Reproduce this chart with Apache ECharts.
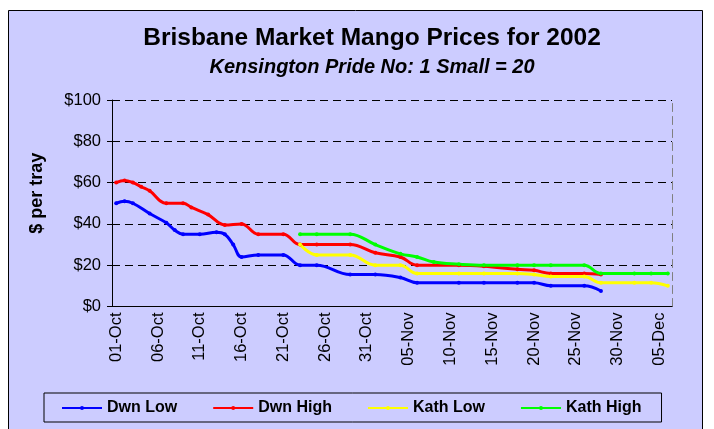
<!DOCTYPE html>
<html>
<head>
<meta charset="utf-8">
<script src="https://cdn.jsdelivr.net/npm/echarts@6/dist/echarts.min.js"></script>
<style>
  html, body { margin: 0; padding: 0; background: #fff; }
  #chart { width: 714px; height: 429px; }
</style>
</head>
<body>
<div id="chart"></div>
<script>
// daily categories 01-Oct .. 06-Dec 2002
const months = ['Oct', 'Nov', 'Dec'];
const monthDays = [31, 30, 6];
const categories = [];
monthDays.forEach((n, m) => {
  for (let d = 1; d <= n; d++) categories.push(String(d).padStart(2, '0') + '-' + months[m]);
});

const yTicks = [0, 20, 40, 60, 80, 100];

// prices ($ per tray)
const dwnLowDates = ['01-Oct', '02-Oct', '03-Oct', '05-Oct', '07-Oct', '08-Oct', '09-Oct', '11-Oct', '13-Oct', '14-Oct', '15-Oct', '16-Oct', '18-Oct', '21-Oct', '23-Oct', '25-Oct', '29-Oct', '01-Nov', '04-Nov', '06-Nov', '11-Nov', '14-Nov', '18-Nov', '20-Nov', '22-Nov', '26-Nov', '28-Nov'];
const dwnLowValues = [50, 51, 50, 45, 40.5, 37, 35, 35, 36, 35, 30, 24, 25, 25, 20, 20, 15.5, 15.5, 14, 11.5, 11.5, 11.5, 11.5, 11.5, 10, 10, 7.5];

const dwnHighDates = ['01-Oct', '02-Oct', '03-Oct', '04-Oct', '05-Oct', '07-Oct', '09-Oct', '10-Oct', '12-Oct', '14-Oct', '16-Oct', '18-Oct', '21-Oct', '23-Oct', '25-Oct', '29-Oct', '01-Nov', '04-Nov', '06-Nov', '11-Nov', '14-Nov', '18-Nov', '20-Nov', '22-Nov', '26-Nov', '28-Nov'];
const dwnHighValues = [60, 61, 60, 58, 56, 50, 50, 48, 44.5, 39.5, 40, 35, 35, 30, 30, 30, 26, 24, 20, 20, 19.5, 18, 17.5, 16, 16, 15.5];

const kathLowDates = ['23-Oct', '25-Oct', '29-Oct', '01-Nov', '04-Nov', '06-Nov', '11-Nov', '14-Nov', '18-Nov', '20-Nov', '22-Nov', '26-Nov', '28-Nov', '02-Dec', '04-Dec', '06-Dec'];
const kathLowValues = [30, 25, 25, 20, 20, 16, 16, 16, 16, 15.5, 14.5, 14.5, 11.5, 11.5, 11.5, 10];

const kathHighDates = ['23-Oct', '25-Oct', '29-Oct', '01-Nov', '04-Nov', '06-Nov', '08-Nov', '11-Nov', '14-Nov', '18-Nov', '20-Nov', '22-Nov', '26-Nov', '28-Nov', '02-Dec', '04-Dec', '06-Dec'];
const kathHighValues = [35, 35, 35, 30, 25.5, 24, 21.5, 20.5, 20, 20, 20, 20, 20, 16, 16, 16, 16];

const font = '"Liberation Sans", Arial, sans-serif';

const pairs = (dates, values) => dates.map((d, i) => [categories.indexOf(d), values[i]]);

const lineSeries = (name, color, dates, values) => ({
  name: name,
  type: 'line',
  data: pairs(dates, values),
  smooth: 0.4,
  symbol: 'circle',
  symbolSize: 4,
  color: color,
  lineStyle: { width: 3, color: color },
  itemStyle: { color: color }
});

const chart = echarts.init(document.getElementById('chart'));
chart.setOption({
  backgroundColor: '#fff',
  animation: false,
  graphic: [{
    type: 'rect',
    z: -10,
    silent: true,
    shape: { x: 8.5, y: 10.5, width: 694, height: 440 },
    style: { fill: '#ccccff', stroke: '#000', lineWidth: 1 }
  }],
  title: {
    text: 'Brisbane Market Mango Prices for 2002',
    subtext: 'Kensington Pride No: 1 Small = 20',
    left: 367,
    top: 21,
    textAlign: 'center',
    itemGap: 6,
    textStyle: { fontFamily: font, fontSize: 24.5, fontWeight: 'bold', color: '#000' },
    subtextStyle: { fontFamily: font, fontSize: 20, fontWeight: 'bold', fontStyle: 'italic', color: '#000' }
  },
  legend: {
    left: 44,
    top: 393,
    padding: [7, 20, 6, 17],
    itemGap: 35,
    itemWidth: 40,
    itemHeight: 5,
    borderColor: '#000',
    borderWidth: 1,
    textStyle: { fontFamily: font, fontSize: 16, fontWeight: 'bold', color: '#000' },
    data: ['Dwn Low', 'Dwn High', 'Kath Low', 'Kath High']
  },
  grid: { left: 112, right: 42, top: 100, bottom: 122.5 },
  xAxis: {
    type: 'category',
    data: categories,
    boundaryGap: true,
    axisLine: { lineStyle: { color: '#000', width: 1 } },
    axisTick: { interval: 4, length: 6, lineStyle: { color: '#000' } },
    axisLabel: { interval: 4, rotate: 90, margin: 6, fontFamily: font, fontSize: 16.5, color: '#000' },
    splitLine: { show: false }
  },
  yAxis: [{
    type: 'value',
    min: yTicks[0],
    max: yTicks[yTicks.length - 1],
    interval: yTicks[1] - yTicks[0],
    name: '$ per tray',
    nameLocation: 'middle',
    nameGap: 66,
    nameRotate: 90,
    nameTextStyle: { fontFamily: font, fontSize: 18, fontWeight: 'bold', color: '#000', padding: [0, 0, 0, 20] },
    axisLine: { show: true, lineStyle: { color: '#000', width: 1 } },
    axisTick: { show: true, length: 5, lineStyle: { color: '#000' } },
    axisLabel: { margin: 11, fontFamily: font, fontSize: 16.5, color: '#000', formatter: v => '$' + v },
    splitLine: { show: true, lineStyle: { color: '#000', width: 1, type: [8, 5] } }
  }, {
    type: 'value',
    position: 'right',
    min: yTicks[0],
    max: yTicks[yTicks.length - 1],
    axisLine: { show: true, lineStyle: { color: '#808080', width: 1, type: [8, 5] } },
    axisTick: { show: false },
    axisLabel: { show: false },
    splitLine: { show: false }
  }],
  series: [
    lineSeries('Dwn Low', '#0000ff', dwnLowDates, dwnLowValues),
    lineSeries('Dwn High', '#ff0000', dwnHighDates, dwnHighValues),
    lineSeries('Kath Low', '#ffff00', kathLowDates, kathLowValues),
    lineSeries('Kath High', '#00ff00', kathHighDates, kathHighValues)
  ]
});
</script>
</body>
</html>
